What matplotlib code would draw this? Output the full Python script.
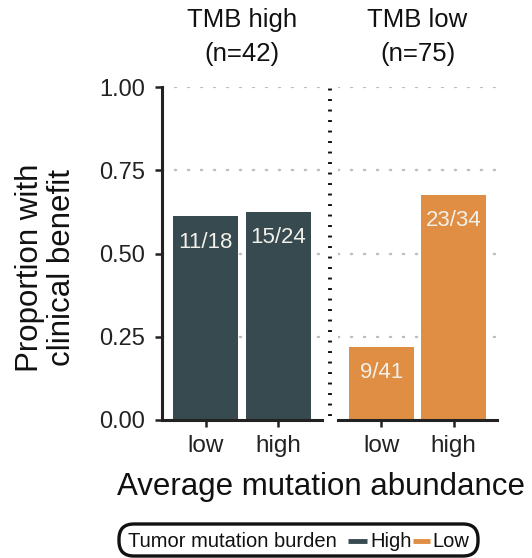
import matplotlib
matplotlib.use("Agg")
import matplotlib.pyplot as plt
from matplotlib.patches import FancyBboxPatch
from matplotlib.lines import Line2D

plt.rcParams['font.family'] = ['Liberation Sans', 'DejaVu Sans']

# ---- data ----
panels = ["TMB high\n(n=42)", "TMB low\n(n=75)"]
categories = ["low", "high"]
high_num = [11, 15]
high_den = [18, 24]
low_num = [9, 23]
low_den = [41, 34]
yticks = [0.0, 0.25, 0.50, 0.75, 1.00]
ytick_labels = ["0.00", "0.25", "0.50", "0.75", "1.00"]
legend_title = "Tumor mutation burden"
legend_labels = ["High", "Low"]

DARK = "#374A50"
ORANGE = "#E08E43"
W, H = 532, 558

fig = plt.figure(figsize=(W / 100, H / 100), dpi=100)

def fx(px):
    return px / W

def fy(py):
    return 1 - py / H

ax_l = fig.add_axes([fx(162), fy(420), fx(322) - fx(162), fy(87) - fy(420)])
ax_r = fig.add_axes([fx(338), fy(420), fx(497) - fx(338), fy(87) - fy(420)])

data = [(high_num, high_den, DARK), (low_num, low_den, ORANGE)]
for i, (ax, (num, den, col)) in enumerate(zip([ax_l, ax_r], data)):
    xs = list(range(len(categories)))
    props = [n / d for n, d in zip(num, den)]
    for y in yticks[1:]:
        ax.axhline(y, color="#BDBDBD", lw=1.7, dashes=(0.5, 5.0), zorder=0,
                   dash_capstyle='round')
    ax.bar(xs, props, width=0.9, color=col, zorder=2, edgecolor="none")
    for x, p, n, d in zip(xs, props, num, den):
        ax.annotate(f"{n}/{d}", (x, p), xytext=(0, -11), textcoords="offset points",
                    ha="center", va="top", color="#F2F0EA", fontsize=16, zorder=3)
    ax.set_xlim(-0.6, 1.6)
    ax.set_ylim(0, 1.0)
    ax.set_xticks(xs)
    ax.set_xticklabels(categories, fontsize=17.5, color="#222222")
    ax.tick_params(axis="x", length=5, width=1.8, pad=6, color="#222222")
    for s in ["top", "right"]:
        ax.spines[s].set_visible(False)
    ax.spines["bottom"].set_linewidth(2.2)
    ax.spines["bottom"].set_color("#222222")
    ax.set_facecolor("none")
    if i == 0:
        ax.set_yticks(yticks)
        ax.set_yticklabels(ytick_labels, fontsize=17, color="#222222")
        ax.tick_params(axis="y", length=5, width=1.8, pad=7, color="#222222")
        ax.spines["left"].set_linewidth(2.2)
        ax.spines["left"].set_color("#222222")
    else:
        ax.set_yticks([])
        ax.spines["left"].set_visible(False)
    # strip title
    cx = (ax.get_position().x0 + ax.get_position().x1) / 2
    l1, l2 = panels[i].split("\n")
    fig.text(cx, fy(27), l1, ha="center", va="baseline", fontsize=18.5, color="#111111")
    fig.text(cx, fy(61), l2, ha="center", va="baseline", fontsize=18.5, color="#111111")

# dotted separator between panels
fig.add_artist(Line2D([fx(330), fx(330)], [fy(416), fy(80)], color="#111111",
                      lw=2.8, dashes=(0.5, 2.2), transform=fig.transFigure))

# axis titles
fig.text(fx(46), fy(268), "Proportion with\nclinical benefit", rotation=90,
         ha="center", va="center", multialignment="center", fontsize=22.5,
         linespacing=1.12, color="#111111")
fig.text(fx(321), fy(495), "Average mutation abundance", ha="center", va="baseline",
         fontsize=22.5, color="#111111")

# legend
box = FancyBboxPatch((fx(119), fy(556)), fx(478) - fx(119), fy(524) - fy(556),
                     boxstyle="round,pad=0,rounding_size=0.028",
                     transform=fig.transFigure, fc="white", ec="#111111", lw=2.4,
                     mutation_aspect=W / H)
fig.add_artist(box)
ty = fy(547)
fig.text(fx(128), ty, legend_title, ha="left", va="baseline", fontsize=14.5, color="#111111")
key_x = [(348, 367, 370), (413, 430, 432)]
for (x0, x1, tx), lab, col in zip(key_x, legend_labels, [DARK, ORANGE]):
    fig.add_artist(Line2D([fx(x0), fx(x1)], [fy(541), fy(541)], color=col, lw=3.5,
                          transform=fig.transFigure, solid_capstyle="butt"))
    fig.text(fx(tx), ty, lab, ha="left", va="baseline", fontsize=14.5, color="#111111")

fig.savefig("out.png", dpi=100)
